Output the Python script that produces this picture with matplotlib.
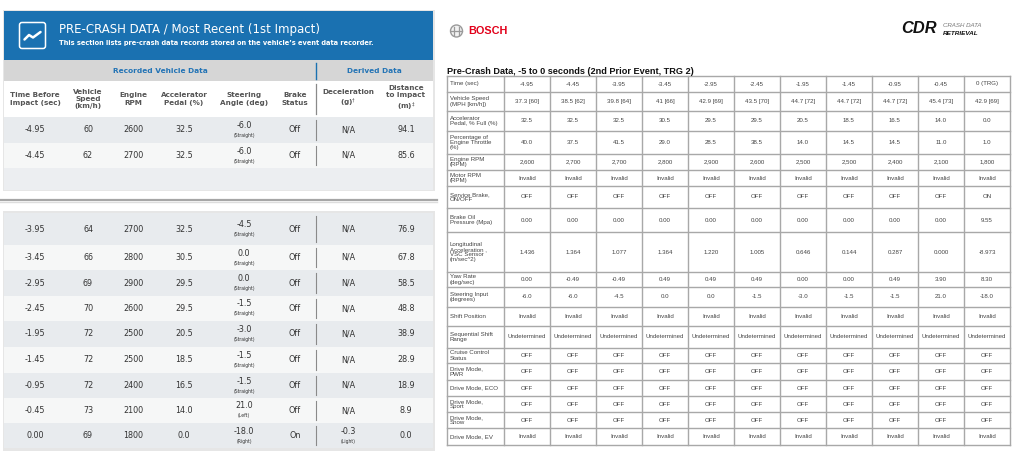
import matplotlib
matplotlib.use("Agg")
import matplotlib.pyplot as plt
from matplotlib.patches import Rectangle, FancyBboxPatch, Circle

# ── data: left panel (most recent event) ─────────────────────────────────────
time_before = ["-4.95", "-4.45", "-3.95", "-3.45", "-2.95", "-2.45",
               "-1.95", "-1.45", "-0.95", "-0.45", "0.00"]
speed_kmh = [60, 62, 64, 66, 69, 70, 72, 72, 72, 73, 69]
engine_rpm = [2600, 2700, 2700, 2800, 2900, 2600, 2500, 2500, 2400, 2100, 1800]
accel_pedal = [32.5, 32.5, 32.5, 30.5, 29.5, 29.5, 20.5, 18.5, 16.5, 14.0, 0.0]
steering_deg = [-6.0, -6.0, -4.5, 0.0, 0.0, -1.5, -3.0, -1.5, -1.5, 21.0, -18.0]
steering_dir = ["Straight"] * 9 + ["Left", "Right"]
brake_status = ["Off"] * 10 + ["On"]
decel_g = ["N/A"] * 10 + ["-0.3"]
decel_note = [""] * 10 + ["Light"]
distance_m = [94.1, 85.6, 76.9, 67.8, 58.5, 48.8, 38.9, 28.9, 18.9, 8.9, 0.0]

left_headers = ["Time Before\nImpact (sec)", "Vehicle\nSpeed\n(km/h)", "Engine\nRPM",
                "Accelerator\nPedal (%)", "Steering\nAngle (deg)", "Brake\nStatus",
                "Deceleration\n(g)$^{\u2020}$", "Distance\nto Impact\n(m)$^{\u2021}$"]

# ── data: right panel (2nd prior event) ──────────────────────────────────────
time_sec = ["-4.95", "-4.45", "-3.95", "-3.45", "-2.95", "-2.45",
            "-1.95", "-1.45", "-0.95", "-0.45", "0 (TRG)"]
speed_mph = ["37.3", "38.5", "39.8", "41", "42.9", "43.5", "44.7", "44.7", "44.7", "45.4", "42.9"]
throttle = [40.0, 37.5, 41.5, 29.0, 28.5, 38.5, 14.0, 14.5, 14.5, 11.0, 1.0]
service_brake = ["OFF"] * 10 + ["ON"]
brake_oil = [0.00] * 10 + [9.55]
long_accel = [1.436, 1.364, 1.077, 1.364, 1.220, 1.005, 0.646, 0.144, 0.287, 0.000, -8.973]
yaw_rate = [0.00, -0.49, -0.49, 0.49, 0.49, 0.49, 0.00, 0.00, 0.49, 3.90, 8.30]

right_labels = ["Time (sec)", "Vehicle Speed\n(MPH [km/h])", "Accelerator\nPedal, % Full (%)",
                "Percentage of\nEngine Throttle\n(%)", "Engine RPM\n(RPM)", "Motor RPM\n(RPM)",
                "Service Brake,\nON/OFF", "Brake Oil\nPressure (Mpa)",
                "Longitudinal\nAcceleration ,\nVSC Sensor\n(m/sec^2)", "Yaw Rate\n(deg/sec)",
                "Steering Input\n(degrees)", "Shift Position", "Sequential Shift\nRange",
                "Cruise Control\nStatus", "Drive Mode,\nPWR", "Drive Mode, ECO",
                "Drive Mode,\nSport", "Drive Mode,\nSnow", "Drive Mode, EV"]

n = len(time_sec)
right_rows = [
    time_sec,
    [f"{m} [{k}]" for m, k in zip(speed_mph, speed_kmh)],
    [f"{v:.1f}" for v in accel_pedal],
    [f"{v:.1f}" for v in throttle],
    [f"{v:,}" for v in engine_rpm],
    ["Invalid"] * n,
    service_brake,
    [f"{v:.2f}" for v in brake_oil],
    [f"{v:.3f}" for v in long_accel],
    [f"{v:.2f}" for v in yaw_rate],
    [f"{v:.1f}" for v in steering_deg],
    ["Invalid"] * n,
    ["Undetermined"] * n,
    ["OFF"] * n,
    ["OFF"] * n,
    ["OFF"] * n,
    ["OFF"] * n,
    ["OFF"] * n,
    ["Invalid"] * n,
]

# ── colours / layout ────────────────────────────────────────────────────────
BLUE = "#1a71b1"
BAND = "#d6d6d6"
ROW_DARK = "#e8ebee"
ROW_LIGHT = "#f6f7f7"
TXT = "#333333"
HDR = "#555555"

L_FONT = "DejaVu Sans"
R_FONT = "Liberation Sans"

fig = plt.figure(figsize=(10.24, 4.66), dpi=100)
ax = fig.add_axes([0, 0, 1, 1])
ax.set_xlim(0, 1024)
ax.set_ylim(466, 0)
ax.axis("off")

# ── left panel ──────────────────────────────────────────────────────────────
ax.add_patch(Rectangle((3, 10), 432, 181, facecolor="#e6e6e6", edgecolor="none"))
ax.add_patch(Rectangle((4, 11), 429, 49, facecolor=BLUE, edgecolor="none"))
ax.add_patch(FancyBboxPatch((19.5, 22.5), 26, 26, boxstyle="round,pad=0,rounding_size=2.5",
                            facecolor="none", edgecolor="white", lw=1.1))
ax.plot([24.5, 29, 33, 40.5], [39.5, 35, 37.5, 32], color="white", lw=1.8,
        solid_capstyle="round", solid_joinstyle="round")
ax.text(59, 30, "PRE-CRASH DATA / Most Recent (1st Impact)", color="white",
        fontsize=8.5, family=L_FONT, va="center", ha="left")
ax.text(59, 43.5, "This section lists pre-crash data records stored on the vehicle\u2019s event data recorder.",
        color="white", fontsize=4.75, fontweight="bold", family=L_FONT, va="center", ha="left")

ax.add_patch(Rectangle((4, 60), 429, 21, facecolor=BAND, edgecolor="none"))
ax.plot([316, 316], [63, 79], color=BLUE, lw=1.0)
ax.text(160, 71, "Recorded Vehicle Data", color="#2273b5", fontsize=5.3,
        fontweight="bold", family=L_FONT, ha="center", va="center")
ax.text(374, 71, "Derived Data", color="#2273b5", fontsize=5.3,
        fontweight="bold", family=L_FONT, ha="center", va="center")

ax.add_patch(Rectangle((4, 81), 429, 36, facecolor="white", edgecolor="none"))
col_x = [35, 88, 133, 184, 244, 295, 348, 406]
for cx, h in zip(col_x, left_headers):
    ax.text(cx, 99, h, color=HDR, fontsize=5.2, fontweight="bold", family=L_FONT,
            ha="center", va="center", linespacing=1.25)
ax.plot([316, 316], [84, 114], color="#8a8a8a", lw=0.9)

# lower block frame + divider
ax.plot([0, 437], [200, 200], color="#a6a6a6", lw=1.6)
ax.plot([0, 437], [201.6, 201.6], color="#dddddd", lw=1.0)
ax.add_patch(Rectangle((3, 211), 432, 240, facecolor="#e6e6e6", edgecolor="none"))

row_spans = [(117, 143), (143, 168), (213, 245), (245, 270), (270, 296), (296, 321),
             (321, 347), (347, 373), (373, 398), (398, 423), (423, 448)]
ax.add_patch(Rectangle((4, 168), 429, 22, facecolor="#eceef1", edgecolor="none"))

for i, (y0, y1) in enumerate(row_spans):
    ax.add_patch(Rectangle((4, y0), 429, y1 - y0,
                           facecolor=ROW_DARK if i % 2 == 0 else ROW_LIGHT, edgecolor="none"))
    cy = (y0 + y1) / 2
    vals = [time_before[i], str(speed_kmh[i]), str(engine_rpm[i]), f"{accel_pedal[i]:.1f}",
            None, brake_status[i], None, f"{distance_m[i]:.1f}"]
    for cx, v in zip(col_x, vals):
        if v is not None:
            ax.text(cx, cy, v, color=TXT, fontsize=5.8, family=L_FONT, ha="center", va="center")
    ax.text(col_x[4], cy - 4.5, f"{steering_deg[i]:.1f}", color=TXT, fontsize=5.8,
            family=L_FONT, ha="center", va="center")
    ax.text(col_x[4], cy + 5.5, f"({steering_dir[i]})", color=TXT, fontsize=3.3,
            family=L_FONT, ha="center", va="center")
    if decel_note[i]:
        ax.text(col_x[6], cy - 4.5, decel_g[i], color=TXT, fontsize=5.8,
                family=L_FONT, ha="center", va="center")
        ax.text(col_x[6], cy + 5.5, f"({decel_note[i]})", color=TXT, fontsize=3.3,
                family=L_FONT, ha="center", va="center")
    else:
        ax.text(col_x[6], cy, decel_g[i], color=TXT, fontsize=5.8,
                family=L_FONT, ha="center", va="center")
    ax.plot([316, 316], [y0 + 3, y1 - 3], color="#8a8a8a", lw=0.8)

# ── right panel: logos and title ─────────────────────────────────────────────
ax.add_patch(Circle((456.5, 31), 6, facecolor="#f2f2f2", edgecolor="#9a9a9a", lw=1.0))
ax.plot([451, 462], [31, 31], color="#9a9a9a", lw=0.9)
ax.plot([454, 454], [27, 35], color="#9a9a9a", lw=0.9)
ax.plot([459, 459], [27, 35], color="#9a9a9a", lw=0.9)
ax.text(468, 31.5, "BOSCH", color="#e2001a", fontsize=7.8, fontweight="bold",
        family=R_FONT, ha="left", va="center")

ax.text(901, 28.5, "CDR", color="#111111", fontsize=11.8, fontweight="heavy",
        fontstyle="italic", family=R_FONT, ha="left", va="center")
ax.text(943, 25.5, "CRASH DATA", color="#777777", fontsize=4.4, fontstyle="italic",
        family=R_FONT, ha="left", va="center")
ax.text(943, 33.5, "RETRIEVAL", color="#111111", fontsize=4.6, fontstyle="italic",
        fontweight="bold", family=R_FONT, ha="left", va="center")

ax.text(447, 74.5, "Pre-Crash Data, -5 to 0 seconds (2nd Prior Event, TRG 2)",
        color="#111111", fontsize=6.6, fontweight="bold", family=R_FONT,
        ha="left", va="baseline")

# ── right panel: table ───────────────────────────────────────────────────────
col_edges = [447] + [504 + 46 * k for k in range(n + 1)]
row_edges = [76, 92, 111, 131, 154, 170, 186, 208, 232, 272, 287, 307, 326, 348,
             363, 380, 396, 412, 428, 445]
GRID = "#a8a8a8"
for y in row_edges:
    ax.plot([col_edges[0], col_edges[-1]], [y, y], color=GRID, lw=1.0)
for x in col_edges:
    ax.plot([x, x], [row_edges[0], row_edges[-1]], color=GRID, lw=1.0)

for r, (lab, vals) in enumerate(zip(right_labels, right_rows)):
    cy = (row_edges[r] + row_edges[r + 1]) / 2
    ax.text(col_edges[0] + 3, cy, lab, color="#444444", fontsize=4.4, family=R_FONT,
            ha="left", va="center", linespacing=1.05)
    for c, v in enumerate(vals):
        cx = (col_edges[c + 1] + col_edges[c + 2]) / 2
        ax.text(cx, cy, v, color="#444444", fontsize=4.4, family=R_FONT,
                ha="center", va="center")

fig.savefig("out.png", dpi=100, facecolor="white")
